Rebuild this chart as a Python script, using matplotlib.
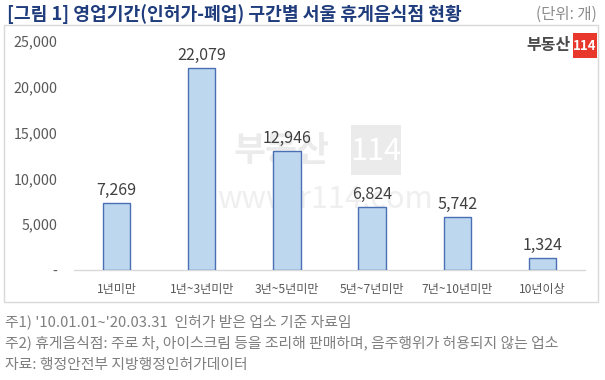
import matplotlib
matplotlib.use("Agg")
import matplotlib.pyplot as plt
from matplotlib.patches import Rectangle
from matplotlib.ticker import FuncFormatter

plt.rcParams['font.family'] = ['Noto Sans CJK KR', 'DejaVu Sans']

categories = ['1년미만', '1년~3년미만', '3년~5년미만', '5년~7년미만', '7년~10년미만', '10년이상']
values = [7269, 22079, 12946, 6824, 5742, 1324]
yticks = [0, 5000, 10000, 15000, 20000, 25000]

title = '[그림 1] 영업기간(인허가-폐업) 구간별 서울 휴게음식점 현황'
unit = '(단위: 개)'
notes = ["주1) '10.01.01~'20.03.31  인허가 받은 업소 기준 자료임",
         "주2) 휴게음식점: 주로 차, 아이스크림 등을 조리해 판매하며, 음주행위가 허용되지 않는 업소",
         "자료: 행정안전부 지방행정인허가데이터"]

W, H = 605, 380
fig = plt.figure(figsize=(W/100, H/100), dpi=100)
fig.patch.set_facecolor('white')

def fx(px): return px / W
def fy(py): return 1 - py / H

# outer border of chart area
fig.patches.append(Rectangle((fx(4), fy(302)), fx(598) - fx(4), fy(25) - fy(302),
                             transform=fig.transFigure, fill=False,
                             edgecolor='#D9D9D9', linewidth=1))

fig.text(fx(7), fy(14), title, fontsize=13.1, fontweight='bold', color='#1F3C7C',
         va='center', ha='left')
fig.text(fx(597), fy(14), unit, fontsize=11.2, color='#8C8C8C', va='center', ha='right')

ax = fig.add_axes([fx(74), fy(270), fx(585) - fx(74), fy(41) - fy(270)])
ax.set_facecolor('none')

# watermark (behind bars)
ax.text(fx(282), fy(151), '부동산', transform=fig.transFigure, fontsize=25, fontweight='bold',
        color='#EBEBEB', ha='center', va='center', zorder=1)
ax.add_patch(Rectangle((fx(351), fy(175)), fx(401) - fx(351), fy(125) - fy(175),
                       transform=fig.transFigure, facecolor='#EBEBEB', edgecolor='none',
                       zorder=1, clip_on=False))
ax.text(fx(376), fy(151), '114', transform=fig.transFigure, fontsize=22,
        color='white', ha='center', va='center', zorder=1)
ax.text(fx(217), fy(200), 'www.r114.com', transform=fig.transFigure, fontsize=22,
        color='#EFEFEF', ha='left', va='center', zorder=1)

x = range(len(categories))
ax.bar(x, values, width=0.32, color='#BDD7EE', edgecolor='#4A6FB5', linewidth=1.0, zorder=3)
for xi, v in zip(x, values):
    ax.annotate(f'{v:,}', (xi, v), xytext=(0, 3), textcoords='offset points',
                ha='center', va='bottom', fontsize=11.5, color='#404040', zorder=4)
ax.set_xlim(-0.5, len(categories) - 0.5)
ax.set_ylim(0, 25000)
ax.set_yticks(yticks)
ax.yaxis.set_major_formatter(FuncFormatter(lambda v, p: '-' if v == 0 else f'{int(v):,}'))
ax.set_xticks(list(x))
ax.set_xticklabels(categories)
for s in ['top', 'right', 'left']:
    ax.spines[s].set_visible(False)
ax.spines['bottom'].set_color('#D9D9D9')
ax.spines['bottom'].set_linewidth(1)
ax.tick_params(axis='both', length=0)
ax.tick_params(axis='y', labelsize=10.3, labelcolor='#595959', pad=12)
ax.tick_params(axis='x', labelsize=8.7, labelcolor='#595959', pad=9)

# logo
fig.text(fx(571), fy(45), '부동산', fontsize=11.5, fontweight='bold', color='#4A4A4A',
         ha='right', va='center')
fig.patches.append(Rectangle((fx(573), fy(58)), fx(597) - fx(573), fy(33) - fy(58),
                             transform=fig.transFigure, facecolor='#E8382B', edgecolor='none'))
fig.text(fx(585), fy(45.5), '114', fontsize=9.5, fontweight='bold', color='white',
         ha='center', va='center')

for yy, n in zip([322, 343, 365], notes):
    fig.text(fx(5), fy(yy), n, fontsize=10.7, color='#7F7F7F', ha='left', va='center')

fig.savefig('out.png', dpi=100)
